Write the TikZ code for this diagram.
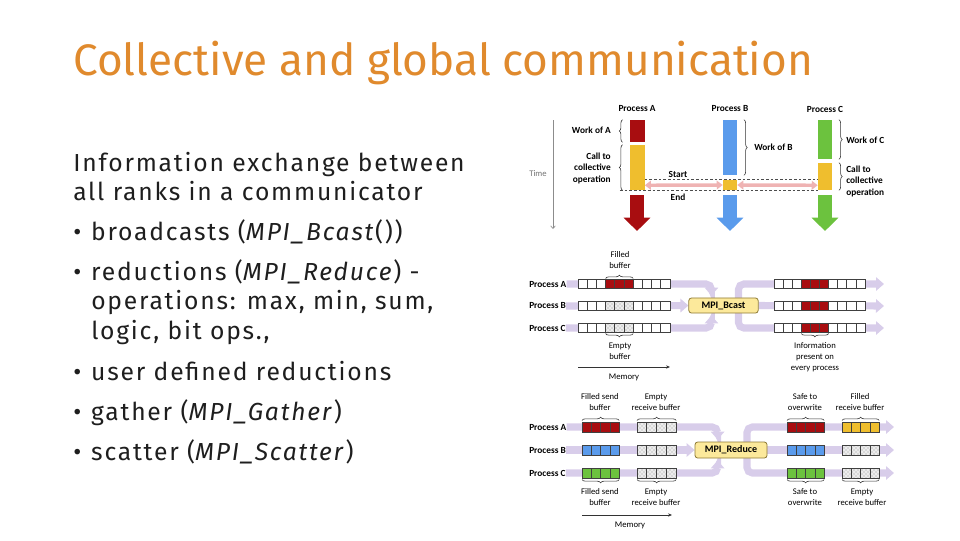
\documentclass[tikz,border=0pt]{standalone}
\usepackage{fontspec}
\setmainfont{Fira Sans}
\newfontfamily\figfont{Carlito}
\usetikzlibrary{arrows.meta, positioning, calc, fit, patterns, backgrounds,
  decorations.pathreplacing}
\definecolor{titleOrange}{HTML}{E08A2D}
\definecolor{textDark}{HTML}{1E1E1E}
\definecolor{procRed}{HTML}{A80D10}
\definecolor{procBlue}{HTML}{5A9BEC}
\definecolor{procGreen}{HTML}{6CC23E}
\definecolor{procYellow}{HTML}{EFBE2E}
\definecolor{flowLav}{HTML}{D8CDEA}
\definecolor{syncPink}{HTML}{EFB3B3}
\definecolor{mpiFill}{HTML}{FCE99B}
\definecolor{mpiBorder}{HTML}{8E7A35}

% one row of memory cells: left x, centre y, cell width, cell height, styles
\newcommand{\membuf}[5]{%
  \foreach \s [count=\i from 0] in {#5}
    \draw[cellline, \s] (#1+\i*#3, #2-#4/2) rectangle ++(#3, #4);}
\newcommand{\itm}{\makebox[13.5pt][l]{•}}

\begin{document}
\begin{tikzpicture}[
    x=0.75pt, y=-0.75pt,
    title/.style={font=\fontsize{33.1}{40}\selectfont, text=titleOrange,
                  anchor=base west, inner sep=0pt},
    body/.style={font=\fontsize{18.5}{22}\selectfont\addfontfeatures{LetterSpace=7.2},
                 text=textDark, anchor=base west, inner sep=0pt},
    proc/.style={font=\figfont\bfseries\fontsize{7}{8}\selectfont, inner sep=0pt},
    lbl/.style={font=\figfont\bfseries\fontsize{7}{8.6}\selectfont, align=center,
                inner sep=0pt},
    sml/.style={font=\figfont\fontsize{6.5}{8.2}\selectfont, align=center,
                inner sep=0pt},
    bar/.style={fill=#1, inner sep=0pt},
    procarrow/.style={draw=#1, line width=11pt,
                      -{Triangle[width=19.5pt, length=10pt]}},
    brc/.style={decorate, decoration={brace, amplitude=2.5pt},
                draw=black!80, line width=0.45pt},
    sync/.style={draw=syncPink, line width=2.6pt,
                 {Triangle[width=6.5pt, length=4.5pt]}-{Triangle[width=6.5pt, length=4.5pt]}},
    dashln/.style={draw=black!70, line width=0.5pt, dash pattern=on 2pt off 1.5pt},
    flow/.style={draw=flowLav, line width=5.3pt, rounded corners=4pt,
                 -{Triangle[width=10pt, length=6pt]}},
    mpibox/.style={draw=mpiBorder, fill=mpiFill, rounded corners=2pt,
                   line width=0.6pt, inner sep=0pt,
                   font=\figfont\bfseries\fontsize{7.5}{8}\selectfont},
    memarrow/.style={draw=black!80, line width=0.5pt,
                     -{Stealth[length=3pt, width=2.5pt]}},
    cellline/.style={draw=black!75, line width=0.5pt},
    ce/.style={fill=white},
    cr/.style={fill=procRed},
    cb/.style={fill=procBlue},
    cg/.style={fill=procGreen},
    cy/.style={fill=procYellow},
    cd/.style={preaction={fill=gray!15}, pattern=crosshatch dots,
               pattern color=black!40},
  ]
    \useasboundingbox (0,0) rectangle (960,540);

    % Title and text
    \node[title] (ttl) at (73,75) {Collective and global communication};
    \node[body] (intro1) at (73,171) {Information exchange between};
    \node[body] (intro2) at (73,200) {all ranks in a communicator};
    \node[body] (itBcast) at (73,240) {\itm broadcasts (\textit{MPI\_Bcast}())};
    \node[body] (itReduce) at (73,280) {\itm reductions (\textit{MPI\_Reduce}) -};
    \node[body] (itOps1) at (91,309) {operations: max, min, sum,};
    \node[body] (itOps2) at (91,339) {logic, bit ops.,};
    \node[body] (itUser) at (73,380) {\itm user defined reductions};
    \node[body] (itGather) at (73,420) {\itm gather (\textit{MPI\_Gather})};
    \node[body] (itScatter) at (73,460) {\itm scatter (\textit{MPI\_Scatter})};

    % Time line
    \node[sml, text=black!55] (time) at (538,174) {Time};
    \coordinate (tTop) at (553,120);
    \coordinate (tBot) at (553,229);
    \draw[draw=black!45, line width=0.5pt,
          -{Straight Barb[length=2pt, width=3.5pt]}] (tTop) -- (tBot);

    % Process A
    \node[proc] (pA) at (637,109) {Process A};
    \node[bar=procRed, fit={(629.5,120)(644.5,142)}] (workA) {};
    \node[bar=procYellow, fit={(629.5,145)(644.5,190)}] (callA) {};
    \draw[procarrow=procRed] (637,195) -- (637,231);
    \draw[brc] ([xshift=-5pt]workA.south west) -- ([xshift=-5pt]workA.north west);
    \draw[brc] ([xshift=-5pt]callA.south west) -- ([xshift=-5pt]callA.north west);
    \node[lbl, anchor=east] (workAlbl) at (611,130) {Work of A};
    \node[lbl, anchor=east, align=right] (callAlbl) at (611,168)
      {Call to\\collective\\operation};

    % Process B
    \node[proc] (pB) at (730,109) {Process B};
    \node[bar=procBlue, fit={(723,120)(737,175)}] (workB) {};
    \node[bar=procYellow, fit={(723,180)(737,190)}] (callB) {};
    \draw[procarrow=procBlue] (730,195) -- (730,231);
    \draw[brc] ([xshift=5pt]workB.north east) -- ([xshift=5pt]workB.south east);
    \node[lbl, anchor=west] (workBlbl) at (754,147) {Work of B};

    % Process C
    \node[proc] (pC) at (825,109) {Process C};
    \node[bar=procGreen, fit={(818,120)(832,159)}] (workC) {};
    \node[bar=procYellow, fit={(818,163)(832,190)}] (callC) {};
    \draw[procarrow=procGreen] (825,195) -- (825,231);
    \draw[brc] ([xshift=5pt]workC.north east) -- ([xshift=5pt]workC.south east);
    \draw[brc] ([xshift=5pt]callC.north east) -- ([xshift=5pt]callC.south east);
    \node[lbl, anchor=west] (workClbl) at (846,140) {Work of C};
    \node[lbl, anchor=west, align=left] (callClbl) at (846,181)
      {Call to\\collective\\operation};

    % Synchronisation
    \draw[dashln] (callA.east |- callB.north) -- (callC.west |- callB.north);
    \draw[dashln] ([xshift=-7pt]callA.south west) -- (callC.south west);
    \draw[sync] ($(callA.south east)+(0,-5)$) -- (callB.west);
    \draw[sync] (callB.east) -- ($(callC.south west)+(0,-5)$);
    \node[lbl] (startLbl) at (678,174) {Start};
    \node[lbl] (endLbl) at (678,197) {End};

    % Broadcast
    \node[proc, anchor=west] (bA) at (529,284) {Process A};
    \node[proc, anchor=west] (bB) at (529,306) {Process B};
    \node[proc, anchor=west] (bC) at (529,328) {Process C};
    \node[mpibox, minimum width=52pt, minimum height=11.3pt] (bcastBox)
      at (723.5,305.5) {MPI\_Bcast};
    \coordinate (bOutA) at (884,284);
    \coordinate (bOutB) at (884,306);
    \coordinate (bOutC) at (884,328);
    \begin{scope}[on background layer]
      \draw[flow] (bA.east) -| ($(bcastBox.north west)+(23,-2)$);
      \draw[flow] (bB.east) -- (bcastBox.west);
      \draw[flow] (bC.east) -| ($(bcastBox.south west)+(23,2)$);
      \draw[flow] ($(bcastBox.center)+(15,0)$) |- (bOutA);
      \draw[flow] (bcastBox.east) -- (bOutB);
      \draw[flow] ($(bcastBox.center)+(15,0)$) |- (bOutC);
    \end{scope}
    \membuf{578}{284}{9.2}{9}{ce,ce,ce,cr,cr,cr,ce,ce,ce,ce}
    \membuf{578}{306}{9.2}{9}{ce,ce,ce,cd,cd,cd,ce,ce,ce,ce}
    \membuf{578}{328}{9.2}{9}{ce,ce,ce,cd,cd,cd,ce,ce,ce,ce}
    \membuf{774}{284}{9.1}{9}{ce,ce,ce,cr,cr,cr,ce,ce,ce,ce}
    \membuf{774}{306}{9.1}{9}{ce,ce,ce,cr,cr,cr,ce,ce,ce,ce}
    \membuf{774}{328}{9.1}{9}{ce,ce,ce,cr,cr,cr,ce,ce,ce,ce}
    \draw[brc] (605.6,278.5) -- (633.2,278.5);
    \node[sml] (filledLbl) at (620,260) {Filled\\buffer};
    \draw[brc] (633.2,333.5) -- (605.6,333.5);
    \node[sml] (emptyLbl) at (620,351) {Empty\\buffer};
    \draw[brc] (828.6,333.5) -- (801.3,333.5);
    \node[sml] (infoLbl) at (815,357) {Information\\present on\\every process};
    \coordinate (memL1) at (578,367);
    \coordinate (memR1) at (670,367);
    \draw[memarrow] (memL1) -- (memR1);
    \node[sml] (mem1) at (624,377) {Memory};

    % Reduction
    \node[proc, anchor=west] (rA) at (529,427) {Process A};
    \node[proc, anchor=west] (rB) at (529,450) {Process B};
    \node[proc, anchor=west] (rC) at (529,473) {Process C};
    \node[mpibox, minimum width=54pt, minimum height=12pt] (reduceBox)
      at (731,450) {MPI\_Reduce};
    \coordinate (rOutA) at (894,427);
    \coordinate (rOutB) at (894,450);
    \coordinate (rOutC) at (894,473);
    \begin{scope}[on background layer]
      \draw[flow] (rA.east) -| ($(reduceBox.north west)+(23,-2)$);
      \draw[flow] (rB.east) -- (reduceBox.west);
      \draw[flow] (rC.east) -| ($(reduceBox.south west)+(23,2)$);
      \draw[flow] ($(reduceBox.center)+(16,0)$) |- (rOutA);
      \draw[flow] (reduceBox.east) -- (rOutB);
      \draw[flow] ($(reduceBox.center)+(16,0)$) |- (rOutC);
    \end{scope}
    \membuf{582}{427}{9.3}{10}{cr,cr,cr,cr}
    \membuf{582}{450}{9.3}{10}{cb,cb,cb,cb}
    \membuf{582}{473}{9.3}{10}{cg,cg,cg,cg}
    \membuf{637}{427}{9.8}{10}{cd,cd,cd,cd}
    \membuf{637}{450}{9.8}{10}{cd,cd,cd,cd}
    \membuf{637}{473}{9.8}{10}{cd,cd,cd,cd}
    \membuf{787}{427}{9.3}{10}{cr,cr,cr,cr}
    \membuf{787}{450}{9.3}{10}{cb,cb,cb,cb}
    \membuf{787}{473}{9.3}{10}{cg,cg,cg,cg}
    \membuf{842}{427}{9.3}{10}{cy,cy,cy,cy}
    \membuf{842}{450}{9.3}{10}{cd,cd,cd,cd}
    \membuf{842}{473}{9.3}{10}{cd,cd,cd,cd}
    \draw[brc] (582,420.5) -- (619.2,420.5);
    \draw[brc] (637,420.5) -- (676.2,420.5);
    \draw[brc] (787,420.5) -- (824.2,420.5);
    \draw[brc] (842,420.5) -- (879.2,420.5);
    \draw[brc] (619.2,479.5) -- (582,479.5);
    \draw[brc] (676.2,479.5) -- (637,479.5);
    \draw[brc] (824.2,479.5) -- (787,479.5);
    \draw[brc] (879.2,479.5) -- (842,479.5);
    \node[sml] (sendTop) at (600,402) {Filled send\\buffer};
    \node[sml] (recvTop) at (656,402) {Empty\\receive buffer};
    \node[sml] (safeTop) at (805,402) {Safe to\\overwrite};
    \node[sml] (fillTop) at (860,402) {Filled\\receive buffer};
    \node[sml] (sendBot) at (600,497) {Filled send\\buffer};
    \node[sml] (recvBot) at (656,497) {Empty\\receive buffer};
    \node[sml] (safeBot) at (805,497) {Safe to\\overwrite};
    \node[sml] (emptyBot) at (862,497) {Empty\\receive buffer};
    \coordinate (memL2) at (582,515);
    \coordinate (memR2) at (672,515);
    \draw[memarrow] (memL2) -- (memR2);
    \node[sml] (mem2) at (630,525) {Memory};
\end{tikzpicture}
\end{document}
